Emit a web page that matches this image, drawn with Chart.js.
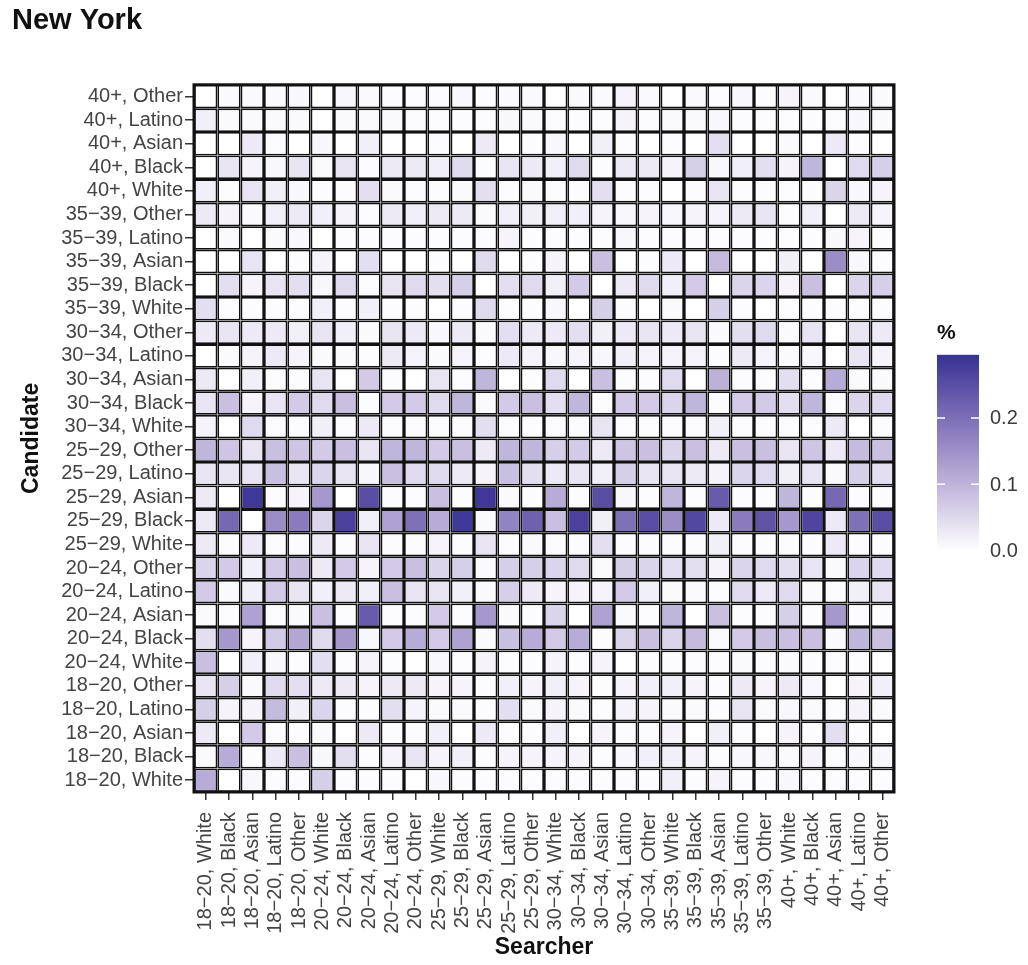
<!DOCTYPE html>
<html>
<head>
<meta charset="utf-8">
<title>New York</title>
<script src="https://cdn.jsdelivr.net/npm/chart.js@4.4.1/dist/chart.umd.min.js"></script>
<style>
  html, body { margin: 0; padding: 0; background: #fff; }
  #wrap { width: 1028px; height: 965px; }
</style>
</head>
<body>
<div id="wrap"><canvas id="heat" width="1028" height="965"></canvas></div>
<script>
// Group labels: age band x race, same order on both axes
const ageGroups = ['18\u221220', '20\u221224', '25\u221229', '30\u221234', '35\u221239', '40+'];
const races = ['White', 'Black', 'Asian', 'Latino', 'Other'];
const groups = ageGroups.flatMap(a => races.map(r => `${a}, ${r}`));
const searchers = groups;          // x axis, left to right
const candidates = groups;         // y axis, bottom to top

// Share of contacts (%), one row per candidate group, listed top row first.
// Columns follow the searcher order.
const shares = [
  /* 40+, Other    */ [0, .007, .007, .007, .011, 0, .011, .007, .004, .004, .004, .011, .004, .007, .007, 0, .007, .007, .014, .007, 0, .007, .004, .011, .004, .014, .007, 0, .007, .007],
  /* 40+, Latino   */ [.021, .007, .007, .007, .007, 0, .007, .007, .007, .004, .004, .004, .004, .011, .007, .004, .004, .004, .014, .004, .007, .007, .011, .004, .004, .004, .004, .004, .011, .007],
  /* 40+, Asian    */ [0, 0, .028, .004, 0, .011, 0, .021, 0, 0, .004, 0, .028, 0, .004, .011, 0, .021, .004, 0, .004, 0, .042, 0, 0, .007, 0, .028, .004, 0],
  /* 40+, Black    */ [0, .035, .014, .011, .035, .007, .035, .004, .028, .028, .021, .049, .004, .035, .028, .021, .049, .004, .028, .028, .014, .063, .011, .021, .042, .014, .098, 0, .049, .063],
  /* 40+, White    */ [.021, .004, .035, .021, .011, .004, .004, .042, .007, .004, .004, .007, .042, .004, .007, .004, .004, .042, .004, .004, 0, .004, .035, .004, .004, .004, .004, .056, .011, .014],
  /* 35-39, Other  */ [.028, .014, .007, .021, .028, .021, .014, .004, .028, .021, .028, .028, .007, .021, .021, .021, .021, .014, .011, .014, .011, .014, .014, .028, .035, .004, .021, 0, .028, .014],
  /* 35-39, Latino */ [0, .007, 0, .007, .011, 0, .004, .004, .004, .004, .004, .004, .004, .014, .004, .004, .004, .004, .011, .004, .004, .004, .004, .004, .004, .004, .004, .011, .014, .004],
  /* 35-39, Asian  */ [0, 0, .035, 0, .004, .014, 0, .042, 0, 0, .004, 0, .049, 0, .004, .014, 0, .084, 0, .004, .028, 0, .091, 0, 0, .021, 0, .154, .011, .004],
  /* 35-39, Black  */ [0, .042, .014, .035, .042, .011, .049, .004, .035, .049, .042, .063, 0, .042, .049, .021, .07, 0, .028, .049, .021, .07, 0, .056, .056, .014, .084, 0, .056, .063],
  /* 35-39, White  */ [.042, .004, .004, .004, .004, .021, .004, .021, .004, .004, 0, .004, .049, .004, .004, .011, 0, .063, .004, 0, .007, 0, .063, .004, 0, .004, .004, .004, .004, .004],
  /* 30-34, Other  */ [.028, .035, .028, .028, .021, .035, .021, .007, .035, .028, .011, .028, .007, .042, .028, .028, .042, .021, .028, .035, .028, .035, .007, .042, .049, .007, .035, 0, .035, .028],
  /* 30-34, Latino */ [0, .007, .014, .028, .014, .007, .007, .004, .028, .014, .007, .014, .004, .028, .014, .011, .014, .011, .021, .014, .014, .014, .004, .028, .014, .007, .011, 0, .035, .014],
  /* 30-34, Asian  */ [.028, 0, .021, .004, .004, .035, 0, .07, .004, 0, .035, .004, .098, 0, .004, .049, 0, .084, .004, .004, .049, 0, .105, .004, .004, .042, .004, .112, .007, .007],
  /* 30-34, Black  */ [.035, .084, .014, .035, .07, .049, .084, .004, .07, .07, .049, .098, .007, .07, .084, .042, .098, .004, .07, .07, .056, .098, .004, .07, .07, .042, .098, .004, .056, .049],
  /* 30-34, White  */ [.014, 0, .049, .004, .004, .021, .004, .028, .004, .004, .004, .004, .042, .004, .004, .004, .004, .035, .004, .004, .004, .004, .021, .004, .004, .004, .004, .028, 0, .004],
  /* 25-29, Other  */ [.098, .077, .035, .084, .077, .07, .084, .035, .098, .098, .07, .084, .028, .098, .098, .063, .07, .028, .077, .084, .056, .084, .028, .084, .084, .035, .077, .028, .091, .084],
  /* 25-29, Latino */ [.035, .035, .035, .084, .035, .056, .035, .011, .084, .049, .049, .028, .014, .084, .042, .028, .035, .021, .063, .035, .035, .028, .014, .056, .049, .021, .035, .007, .063, .042],
  /* 25-29, Asian  */ [.028, 0, .285, .004, .014, .14, 0, .25, .004, .004, .084, .004, .285, .007, .004, .112, .004, .25, .011, .004, .098, .004, .23, .004, .004, .098, .004, .21, .004, .004],
  /* 25-29, Black  */ [.028, .21, 0, .154, .182, .056, .27, .021, .126, .196, .112, .285, .007, .168, .22, .084, .27, .021, .196, .25, .154, .26, .028, .182, .24, .14, .265, .028, .196, .25],
  /* 25-29, White  */ [.028, .004, .028, .004, .004, .028, .004, .035, .004, .004, .014, .004, .035, .004, .007, .004, .004, .042, .004, .004, .004, .004, .021, .004, .004, .004, .004, .028, .004, .004],
  /* 20-24, Other  */ [.056, .07, .021, .07, .084, .028, .07, .014, .07, .084, .056, .063, .007, .063, .063, .056, .049, .007, .063, .056, .042, .042, .014, .056, .049, .042, .035, .007, .056, .049],
  /* 20-24, Latino */ [.07, .007, .021, .07, .035, .021, .028, .021, .084, .035, .035, .021, .007, .063, .028, .014, .014, .014, .07, .021, .007, .007, .004, .049, .028, .049, .007, .004, .021, .035],
  /* 20-24, Asian  */ [.007, .004, .126, .004, .007, .084, .004, .23, .004, .004, .07, .004, .14, .007, .004, .056, 0, .126, .007, .004, .098, 0, .084, .004, .004, .063, .004, .14, .004, .004],
  /* 20-24, Black  */ [.042, .14, .014, .07, .119, .049, .14, .011, .07, .112, .07, .126, .007, .084, .112, .07, .112, .004, .056, .084, .056, .091, .007, .07, .084, .084, .084, .007, .098, .084],
  /* 20-24, White  */ [.084, 0, .021, .011, .004, .042, .004, .014, .004, 0, .011, .004, .014, .004, .004, .014, .004, .014, 0, .004, .004, .004, .004, .007, .004, .007, .004, .004, .004, 0],
  /* 18-20, Other  */ [.035, .063, .007, .049, .042, .028, .028, .014, .028, .028, .014, .014, .004, .021, .014, .021, .014, .004, .014, .021, .021, .014, .004, .028, .014, .028, .011, 0, .014, .021],
  /* 18-20, Latino */ [.063, .014, .014, .091, .021, .056, .004, .004, .042, .014, .007, .007, .004, .042, .007, .014, .007, .004, .014, .014, .007, .007, .004, .035, .007, .011, .007, .004, .014, .007],
  /* 18-20, Asian  */ [.028, 0, .07, .004, .004, .007, 0, .028, .004, .004, .021, 0, .028, .004, .004, .021, 0, .014, .004, .004, .014, 0, .021, .004, 0, .014, .004, .042, .004, 0],
  /* 18-20, Black  */ [.007, .112, .004, .028, .084, .011, .042, .004, .014, .035, .014, .021, .004, .014, .014, .014, .014, .004, .011, .021, .021, .014, .004, .011, .011, .007, .014, .004, .011, .011],
  /* 18-20, White  */ [.112, 0, .011, .004, .004, .063, .004, .004, .004, 0, .011, .004, .004, .004, .004, .004, .004, .004, .004, .004, .021, .004, .014, .004, .004, .011, .004, .004, .004, .004]
];

// Colour bar
const legendTicks = [0, 0.1, 0.2];
const colorMax = 0.295;
const lowColor = [255, 255, 255];
const highColor = [54, 50, 148];

const FONT = '"Liberation Sans", Arial, sans-serif';

// sRGB <-> CIELAB so the ramp is interpolated in Lab space
function toLab(rgb) {
  const lin = rgb.map(c => { c /= 255; return c <= 0.04045 ? c / 12.92 : Math.pow((c + 0.055) / 1.055, 2.4); });
  const X = (0.4124 * lin[0] + 0.3576 * lin[1] + 0.1805 * lin[2]) / 0.95047;
  const Y = (0.2126 * lin[0] + 0.7152 * lin[1] + 0.0722 * lin[2]);
  const Z = (0.0193 * lin[0] + 0.1192 * lin[1] + 0.9505 * lin[2]) / 1.08883;
  const f = t => t > 0.008856 ? Math.cbrt(t) : 7.787 * t + 16 / 116;
  return [116 * f(Y) - 16, 500 * (f(X) - f(Y)), 200 * (f(Y) - f(Z))];
}
function fromLab([L, a, b]) {
  const fy = (L + 16) / 116, fx = fy + a / 500, fz = fy - b / 200;
  const inv = t => t * t * t > 0.008856 ? t * t * t : (t - 16 / 116) / 7.787;
  const X = inv(fx) * 0.95047, Y = inv(fy), Z = inv(fz) * 1.08883;
  const lin = [
    3.2406 * X - 1.5372 * Y - 0.4986 * Z,
    -0.9689 * X + 1.8758 * Y + 0.0415 * Z,
    0.0557 * X - 0.2040 * Y + 1.0570 * Z
  ];
  return lin.map(c => {
    c = c <= 0.0031308 ? 12.92 * c : 1.055 * Math.pow(c, 1 / 2.4) - 0.055;
    return Math.round(Math.max(0, Math.min(1, c)) * 255);
  });
}
const lowLab = toLab(lowColor);
const highLab = toLab(highColor);

function fillFor(v) {
  const t = Math.max(0, Math.min(v / colorMax, 1));
  const c = fromLab(lowLab.map((l, k) => l + (highLab[k] - l) * t));
  return `rgb(${c[0]},${c[1]},${c[2]})`;
}

// One stacked dataset per candidate row; every cell is a unit-height bar
const datasets = candidates.map((name, i) => {
  const row = shares[shares.length - 1 - i];
  return {
    label: name,
    data: searchers.map(() => 1),
    backgroundColor: row.map(fillFor),
    borderColor: '#111',
    borderWidth: 1.8,
    borderSkipped: false,
    inflateAmount: 0,
    barPercentage: 1,
    categoryPercentage: 1,
    stack: 'grid',
    xAxisID: 'x',
    yAxisID: 'y'
  };
});

// Outer frame around the tile grid
const framePlugin = {
  id: 'frame',
  afterDatasetsDraw(chart) {
    const { ctx, chartArea: ca } = chart;
    ctx.save();
    ctx.strokeStyle = '#111';
    ctx.lineWidth = 3;
    ctx.strokeRect(ca.left, ca.top, ca.right - ca.left, ca.bottom - ca.top);
    ctx.restore();
  }
};

// Continuous colour bar legend on the right
const colorBarPlugin = {
  id: 'colorBar',
  afterDraw(chart) {
    const { ctx, chartArea: ca } = chart;
    const x0 = ca.right + 43;
    const w = 42;
    const top = ca.top + 270;
    const bottom = ca.top + 466;
    ctx.save();
    const grad = ctx.createLinearGradient(0, bottom, 0, top);
    for (let s = 0; s <= 20; s++) {
      grad.addColorStop(s / 20, fillFor(colorMax * s / 20));
    }
    ctx.fillStyle = grad;
    ctx.fillRect(x0, top, w, bottom - top);

    ctx.strokeStyle = '#fff';
    ctx.lineWidth = 1.5;
    ctx.fillStyle = '#3a3a3a';
    ctx.font = `20px ${FONT}`;
    ctx.textBaseline = 'middle';
    ctx.textAlign = 'left';
    legendTicks.forEach(v => {
      const y = bottom - (v / colorMax) * (bottom - top);
      ctx.beginPath();
      ctx.moveTo(x0, y); ctx.lineTo(x0 + 8, y);
      ctx.moveTo(x0 + w - 8, y); ctx.lineTo(x0 + w, y);
      ctx.stroke();
      ctx.fillText(v.toFixed(1), x0 + w + 11, y + 1);
    });

    ctx.fillStyle = '#111';
    ctx.font = `bold 21px ${FONT}`;
    ctx.fillText('%', x0, top - 22);
    ctx.restore();
  }
};

new Chart(document.getElementById('heat'), {
  type: 'bar',
  data: { labels: searchers, datasets },
  options: {
    responsive: false,
    animation: false,
    layout: { padding: { left: 12, right: 134, top: 0, bottom: 0 } },
    plugins: {
      legend: { display: false },
      tooltip: { enabled: false },
      title: {
        display: true,
        text: 'New York',
        align: 'start',
        color: '#111',
        font: { family: FONT, size: 29, weight: 'bold' },
        padding: { top: 4, bottom: 46 }
      }
    },
    scales: {
      x: {
        type: 'category',
        offset: true,
        grid: { offset: false, drawOnChartArea: false, drawTicks: true, tickLength: 8, color: '#333', lineWidth: 1.5 },
        border: { display: false },
        ticks: {
          autoSkip: false, minRotation: 90, maxRotation: 90, padding: 12,
          color: '#444', font: { family: FONT, size: 20 }
        },
        title: {
          display: true, text: 'Searcher', color: '#111',
          font: { family: FONT, size: 23, weight: 'bold' },
          padding: { top: 0, bottom: 4 }
        },
        afterFit(scale) { scale.height = 173; }
      },
      y: { type: 'linear', stacked: true, min: 0, max: candidates.length, display: false },
      yCat: {
        type: 'category',
        position: 'left',
        labels: [...candidates].reverse(),
        offset: true,
        grid: { offset: false, drawOnChartArea: false, drawTicks: true, tickLength: 9, color: '#333', lineWidth: 1.5 },
        border: { display: false },
        ticks: { autoSkip: false, padding: 2, color: '#444', font: { family: FONT, size: 20 } },
        title: {
          display: true, text: 'Candidate', color: '#111',
          font: { family: FONT, size: 23, weight: 'bold' },
          padding: { top: 6, bottom: 0 }
        },
        afterFit(scale) { scale.width = 182; }
      }
    }
  },
  plugins: [framePlugin, colorBarPlugin]
});
</script>
</body>
</html>
